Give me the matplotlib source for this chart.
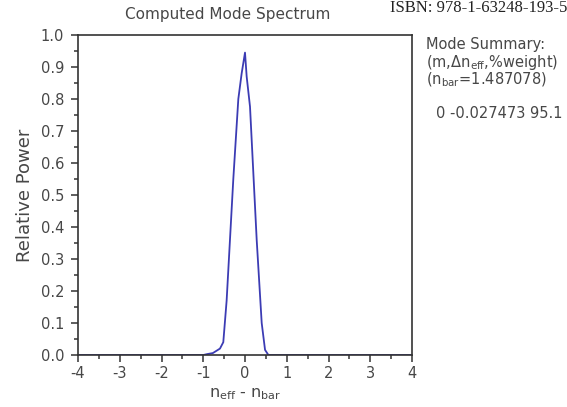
import matplotlib
matplotlib.use("Agg")
import matplotlib.pyplot as plt
from matplotlib.ticker import MultipleLocator

plt.rcParams['font.family'] = ['DejaVu Sans']

# spectrum data (n_eff - n_bar, relative power)
dn = [-4.0, -1.0, -0.9, -0.77, -0.6, -0.52, -0.44, -0.36, -0.28, -0.16, -0.08, 0.0,
      0.04, 0.12, 0.16, 0.28, 0.40, 0.48, 0.56, 4.0]
power = [0.0, 0.0, 0.003, 0.006, 0.02, 0.04, 0.17, 0.36, 0.55, 0.80, 0.88, 0.945,
         0.87, 0.776, 0.672, 0.36, 0.10, 0.016, 0.0, 0.0]

xticks = [-4, -3, -2, -1, 0, 1, 2, 3, 4]
yticks = [0.0, 0.1, 0.2, 0.3, 0.4, 0.5, 0.6, 0.7, 0.8, 0.9, 1.0]

txt = '#474747'
fig = plt.figure(figsize=(5.67, 4.07), dpi=100)
ax = fig.add_axes([78/567, 1-355/407, 334/567, 320/407])
ax.plot(dn, power, color='#3c3cb4', lw=1.3)
ax.set_xlim(-4, 4)
ax.set_ylim(0, 1.0)
ax.set_xticks(xticks)
ax.set_xticklabels([str(t) for t in xticks])
ax.set_yticks(yticks)
ax.set_yticklabels([f'{t:.1f}' for t in yticks])
ax.xaxis.set_minor_locator(MultipleLocator(0.5))
ax.yaxis.set_minor_locator(MultipleLocator(0.05))
ax.tick_params(which='both', direction='out', top=False, right=False,
               colors='#333333', labelcolor=txt, labelsize=10.5, width=1.1)
ax.tick_params(which='major', length=5)
ax.tick_params(which='minor', length=3)
ax.tick_params(axis='y', which='major', pad=5)
ax.tick_params(axis='x', which='major', pad=3)
for s in ax.spines.values():
    s.set_color('#333333')
    s.set_linewidth(1.2)

ax.set_ylabel('Relative Power', color=txt, fontsize=13, labelpad=5)
ax.set_xlabel(r'n$_{\mathregular{eff}}$ - n$_{\mathregular{bar}}$', color=txt, fontsize=11.5, labelpad=4)
fig.text(228/567, 1-15/407, 'Computed Mode Spectrum', color=txt, fontsize=11,
         ha='center', va='center')
fig.text(567/567, 1.0, 'ISBN: 978-1-63248-193-5', family='Liberation Serif',
         fontsize=12, ha='right', va='top', color='#222222')

fig.text(426/567, 1-44/407, 'Mode Summary:', color=txt, fontsize=10.5, va='center')
fig.text(426/567, 1-62/407, r'(m,$\Delta$n$_{\mathregular{eff}}$,%weight)', color=txt, fontsize=10.5, va='center')
fig.text(426/567, 1-80/407, r'(n$_{\mathregular{bar}}$=1.487078)', color=txt, fontsize=10.5, va='center')
fig.text(436/567, 1-114/407, '0 -0.027473 95.1', color=txt, fontsize=10.5, va='center')

fig.savefig('out.png', dpi=100)
